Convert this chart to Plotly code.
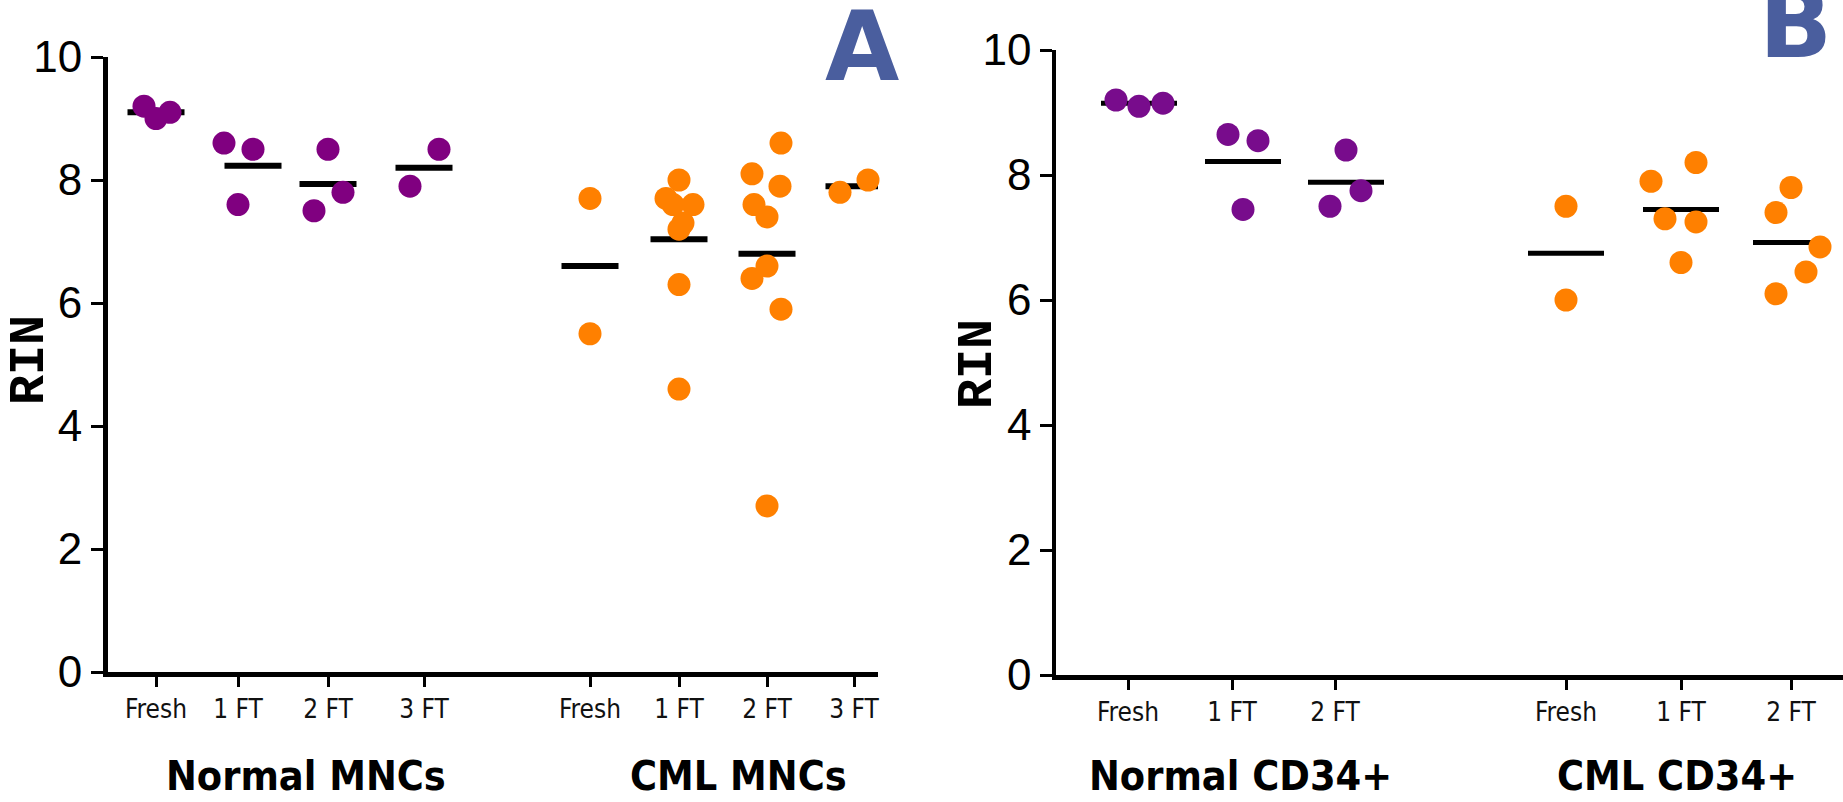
import numpy as np
import plotly.graph_objects as go

# ---------------- data ----------------
conditions_A = ["Fresh", "1 FT", "2 FT", "3 FT"]
conditions_B = ["Fresh", "1 FT", "2 FT"]

# Panel A (RIN values)
normal_mnc = [[9.2, 9.0, 9.1], [8.6, 8.5, 7.6], [8.5, 7.8, 7.5], [8.5, 7.9]]
cml_mnc = [[7.7, 5.5],
           [8.0, 7.7, 7.6, 7.6, 7.3, 7.2, 6.3, 4.6],
           [8.6, 8.1, 7.9, 7.6, 7.4, 6.6, 6.4, 5.9, 2.7],
           [7.8, 8.0]]
# Panel B (RIN values)
normal_cd34 = [[9.2, 9.1, 9.15], [8.65, 8.55, 7.45], [8.4, 7.75, 7.5]]
cml_cd34 = [[7.5, 6.0], [8.2, 7.9, 7.3, 7.25, 6.6], [7.8, 7.4, 6.85, 6.45, 6.1]]

group_names_A = ["Normal MNCs", "CML MNCs"]
group_names_B = ["Normal CD34+", "CML CD34+"]
y_ticks = [0, 2, 4, 6, 8, 10]

# ---------------- layout helpers (positions / styles) ----------------
W, H = 1843, 802
# x axis units are pixels from the y axis
tickpos_A = [48, 130, 220, 316, 482, 571, 659, 746]
center_A = [48, 130, 220, 316, 482, 571, 659, 746]
meanshift_A = [0, 15, 0, 0, 0, 0, 0, 0]
dodge_A = [[-12, 0, 14], [-14, 15, 0], [0, 15, -14], [15, -14],
           [0, 0], [0, -13, -6, 14, 4, 0, 0, 0],
           [14, -15, 13, -13, 0, 0, -15, 14, 0], [-14, 14]]
tickpos_B = [72, 176, 279, 510, 625, 735]
center_B = [83, 187, 290, 510, 625, 735]
dodge_B = [[-23, 0, 24], [-15, 15, 0], [0, 15, -16],
           [0, 0], [15, -30, -16, 15, 0], [0, -15, 29, 15, -15]]

PURPLE_A = "#800080"
PURPLE_B = "#780c8c"
ORANGE = "#ff8000"
LABEL_BLUE = "#4a5e9e"
NARROW = "Liberation Sans Narrow, Arial Narrow, Liberation Sans, sans-serif"
COND = "DejaVu Sans Condensed, DejaVu Sans, sans-serif"

fig = go.Figure()


def add_panel(groups, colors, centers, dodges, meanshift, halfw, lw, xa, ya, msize):
    # mean lines
    lx, ly = [], []
    for vals, c, s in zip(groups, centers, meanshift):
        m = float(np.mean(vals))
        lx += [c + s - halfw, c + s + halfw, None]
        ly += [m, m, None]
    fig.add_trace(go.Scatter(x=lx, y=ly, mode="lines", xaxis=xa, yaxis=ya,
                             line=dict(color="black", width=lw),
                             cliponaxis=False, hoverinfo="skip"))
    # points
    for vals, c, d, col in zip(groups, centers, dodges, colors):
        fig.add_trace(go.Scatter(x=[c + o for o in d], y=vals, mode="markers",
                                 xaxis=xa, yaxis=ya, cliponaxis=False,
                                 marker=dict(color=col, size=msize, line=dict(width=0))))


groups_A = normal_mnc + cml_mnc
colors_A = [PURPLE_A] * len(normal_mnc) + [ORANGE] * len(cml_mnc)
add_panel(groups_A, colors_A, center_A, dodge_A, meanshift_A, 28.5, 6, "x", "y", 23)

groups_B = normal_cd34 + cml_cd34
colors_B = [PURPLE_B] * len(normal_cd34) + [ORANGE] * len(cml_cd34)
add_panel(groups_B, colors_B, center_B, dodge_B, [0] * 6, 38, 5, "x2", "y2", 23)


def ydom(top_px, bottom_px):
    return [(H - bottom_px) / H, (H - top_px) / H]


common_x = dict(showgrid=False, zeroline=False, showline=True, linecolor="black",
                ticks="outside", tickcolor="black", tickwidth=3, ticklen=10,
                automargin=False,
                tickfont=dict(family=COND, size=26, color="#111"), fixedrange=True)
common_y = dict(showgrid=False, zeroline=False, showline=True, linecolor="black",
                ticks="outside", tickcolor="black", tickwidth=3, ticklen=12,
                automargin=False,
                range=[0, 10], tickvals=y_ticks, ticktext=[str(t) for t in y_ticks],
                tickfont=dict(family=NARROW, size=44, color="black"), fixedrange=True)

fig.update_layout(
    width=W, height=H, margin=dict(l=0, r=0, t=0, b=0, autoexpand=False),
    paper_bgcolor="white", plot_bgcolor="white", showlegend=False,
    xaxis=dict(common_x, domain=[108 / W, 878 / W], range=[0, 770], linewidth=5,
               tickvals=tickpos_A, ticktext=conditions_A * 2, anchor="y"),
    yaxis=dict(common_y, domain=ydom(57, 672), linewidth=5, anchor="x"),
    xaxis2=dict(common_x, domain=[1056 / W, 1.0], range=[0, 787], linewidth=5,
                tickvals=tickpos_B, ticktext=conditions_B * 2, anchor="y2"),
    yaxis2=dict(common_y, domain=ydom(50, 675), linewidth=3.5, anchor="x2"),
)

ann = []
GF = dict(family=COND, size=41, color="black")
for name, cx in zip(group_names_A, [306, 738]):
    ann.append(dict(text="<b>%s</b>" % name, x=cx / W, y=(H - 776) / H, xref="paper",
                    yref="paper", showarrow=False, font=GF, xanchor="center", yanchor="middle"))
for name, cx in zip(group_names_B, [1240, 1677]):
    ann.append(dict(text="<b>%s</b>" % name, x=cx / W, y=(H - 776) / H, xref="paper",
                    yref="paper", showarrow=False, font=GF, xanchor="center", yanchor="middle"))
RF = dict(family="Liberation Mono, Courier New, monospace", size=50, color="black")
for cx, cy in [(29, 360), (977, 364)]:
    ann.append(dict(text="<b>RIN</b>", x=cx / W, y=(H - cy) / H, xref="paper", yref="paper",
                    showarrow=False, font=RF, textangle=-90, xanchor="center", yanchor="middle"))
LF = dict(family="DejaVu Sans, sans-serif", size=96, color=LABEL_BLUE)
ann.append(dict(text="<b>A</b>", x=862 / W, y=(H - 47) / H, xref="paper", yref="paper",
                showarrow=False, font=LF, xanchor="center", yanchor="middle"))
ann.append(dict(text="<b>B</b>", x=1795 / W, y=(H - 24) / H, xref="paper", yref="paper",
                showarrow=False, font=LF, xanchor="center", yanchor="middle"))
fig.update_layout(annotations=ann)

fig.write_html("out.html", post_script="document.body.style.margin='0';",
               config={"displayModeBar": False})
